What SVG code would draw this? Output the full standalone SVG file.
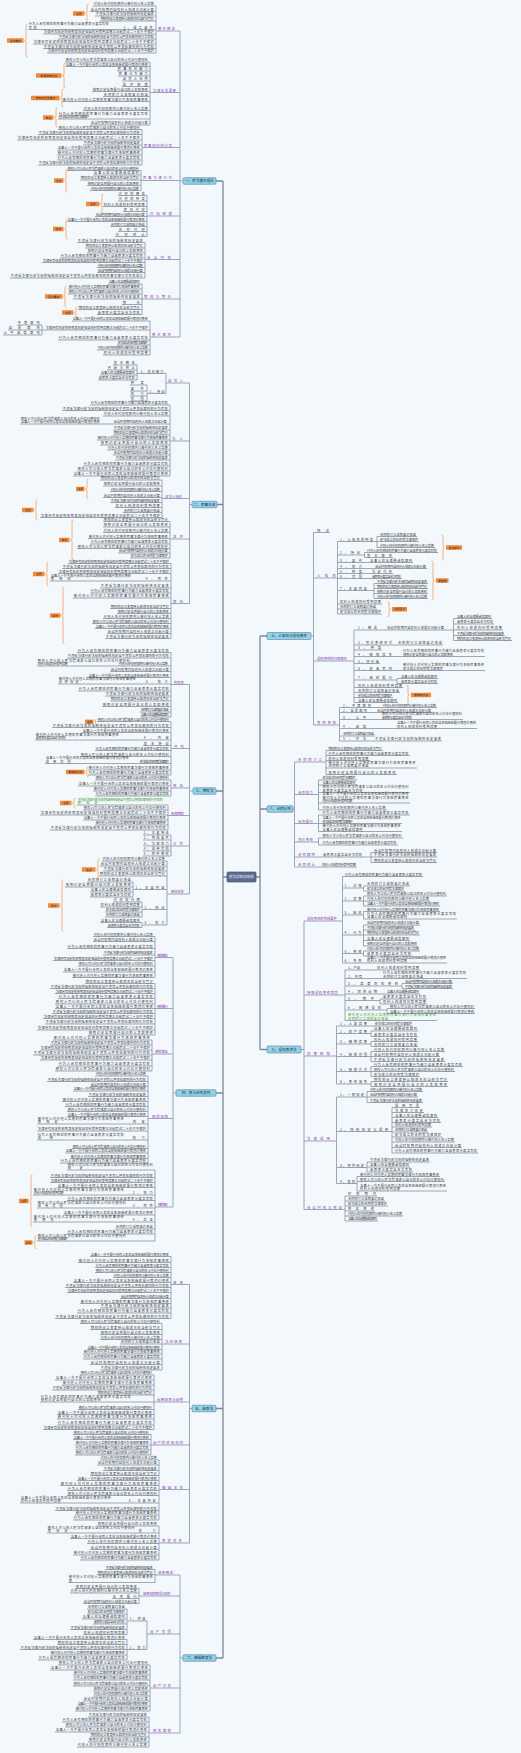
<svg xmlns="http://www.w3.org/2000/svg" width="521" height="1753" viewBox="0 0 521 1753">
<style>
text{font-family:"Noto Sans CJK SC","Noto Sans",sans-serif}
.t text{font-size:3.2px;fill:#3a3a3a}
.t .p{font-size:3.4px;fill:#8e3cba}
.t .g{fill:#36a02a}
.c{fill:none;stroke:#939db0;stroke-width:0.9}
.m{fill:none;stroke:#7d8699;stroke-width:1.3}
.br{fill:none;stroke:#f4a065;stroke-width:0.8}
.ob{fill:#f08a3c}
.t .ot{font-size:2.8px;fill:#222;text-anchor:middle}
.bx{fill:#8fd3ea;stroke:#6e8ca6;stroke-width:0.7}
.t .bt{font-size:3.6px;fill:#1c2a3a;text-anchor:middle}
.cx{fill:#5b6d90;stroke:#44536e;stroke-width:0.7}
.t .ct{font-size:3.8px;fill:#eef2f8;text-anchor:middle}
</style>
<rect width="521" height="1753" fill="#f3f8fc"/>
<g id="connectors">
<path class="m" d="M223,181V1658 M227,877H223 M216,181H223 M217,504.5H223 M216,791H223 M216,1093H223 M216,1408.5H223 M216,1658H223 M256,877H260 M260,636V1049.5 M260,636H267 M260,809H267 M260,1049.5H267"/>
<path class="c" d="M180,31V337 M183,181H180 M156,31H180 M150,92.5H180 M142,147.5H180 M141,180.5H180 M147,216H180 M145,259.5H180 M142,299H180 M150,337H180
M156,6V53 M93,6H156 M90,11.5H156 M95,16H156 M100,21H156 M28,29.5H156 M43,34H156 M58,39H156 M33,44H156 M43,48.5H156 M47,53H156
M150,62V125 M65,62H150 M65,66.5H150 M117,71H150 M118,76H150 M122,81H150 M122,86.5H150 M92,91.5H150 M103,96.5H150 M62,101.5H150 M83,110.5H150 M58,119H150 M90,125H150
M142,129.5V165 M58,129.5H142 M38,134.5H142 M17,140H142 M83,145H142 M57,150H142 M57,155H142 M57,160H142 M38,165H142
M141,170.5V190.5 M67,170.5H141 M93,175H141 M80,180H141 M87,185.5H141 M90,190.5H141
M147,195.5V236.5 M118,195.5H147 M118,201H147 M103,206.5H147 M123,211.5H147 M95,216.5H147 M67,221.5H147 M110,226.5H147 M118,231.5H147 M115,236.5H147
M145,242.5V278 M77,242.5H145 M85,248H145 M87,253H145 M60,258H145 M42,262.5H145 M97,267.5H145 M97,272.5H145 M10,278H145
M142,284V314.5 M108,284H142 M68,289H142 M68,294H142 M73,299H142 M122,304.5H142 M78,309.5H142 M97,314.5H142
M150,321V355 M72,321H150 M8,330H150 M42,325V335 M17,325H42 M3,335H42 M58,340H150 M117,345H150 M97,350H150 M103,355H150"/>
<path class="c" d="M189.5,383V603.5 M192,504.5H189.5 M166,383H189.5 M170,441H189.5 M162,498.5H189.5 M170,539H189.5 M171,603.5H189.5
M166,373.5V393.5 M137,373.5H166 M137,365V380 M113,365H137 M107,370H137 M100,375H137 M98,380H137 M147,393.5H166 M147,385V401 M130,385H147 M130,391H147 M130,396H147 M130,401H147
M170,405V476 M90,405H170 M62,410.5H170 M103,416H170 M20,424H170 M113,430H170 M113,435H170 M97,440H170 M100,445H170 M107,450H170 M113,455H170 M115,460H170 M83,466H170 M77,471H170 M73,476H170
M162,480V517.5 M100,480H162 M103,486H162 M110,491.5H162 M103,497.5H162 M110,502.5H162 M115,507.5H162 M123,512.5H162 M40,517.5H162
M170,521.5V558 M103,521.5H170 M103,527H170 M103,532.5H170 M88,538.5H170 M90,544H170 M77,548.5H170 M118,553H170 M130,558H170
M171,563.5V638.5 M68,563.5H171 M62,568.5H171 M58,573.5H171 M50,581H171 M100,588H171 M90,593H171 M73,598H171 M110,608.5H171 M117,613.5H171 M103,618.5H171 M92,623.5H171 M95,628.5H171 M107,633.5H171 M105,638.5H171"/>
<path class="c" d="M189.5,684.5V894 M193,791H189.5 M171,684.5H189.5 M171,748.5H189.5 M171,788H189.5 M168,815.5H189.5 M171,846H189.5 M167,894H189.5
M171,652.5V717 M77,652.5H171 M67,658H171 M37,666H171 M110,671.5H171 M88,677.5H171 M58,684H171 M78,691H171 M105,696H171 M110,701H171 M102,706.5H171 M140,712H171 M140,717H171
M171,721.5V775 M97,721.5H171 M52,727.5H171 M82,732.5H171 M35,740H171 M143,745.5H171 M95,750.5H171 M80,756.5H171 M45,763.5H171 M88,770H171 M88,775H171
M171,780V796 M95,780H171 M78,786H171 M93,791H171 M95,796H171
M168,805V830 M77,805H168 M83,810H168 M40,815H168 M83,820H168 M95,825H168 M50,830H168
M171,835V856 M143,835H171 M143,840H171 M143,846H171 M143,851H171 M143,856H171
M167,861V925 M102,861H167 M100,866H167 M103,871H167 M99,876H167 M133,889.5H167 M133,882V897 M87,882H133 M65,887H133 M90,892H133 M90,897H133 M142,909.5H167 M142,902V917 M113,902H142 M100,907H142 M105,912H142 M105,917H142 M142,925H167 M142,922.5V927.5 M100,922.5H142 M107,927.5H142"/>
<path class="c" d="M173,957.5V1207 M176,1093H173 M155,957.5H173 M155,1008.5H173 M152,1054H173 M148,1118.5H173 M155,1207H173
M155,936.5V977.5 M93,936.5H155 M93,941.5H155 M67,948.5H155 M103,955H155 M53,960.5H155 M78,966H155 M63,972H155 M72,977.5H155
M155,983.5V1035 M85,983.5H155 M50,988.5H155 M55,993.5H155 M58,998.5H155 M55,1004H155 M55,1008.5H155 M52,1013.5H155 M43,1018.5H155 M45,1024H155 M37,1030H155 M88,1035H155
M152,1040V1071 M53,1040H152 M50,1045H152 M40,1050H152 M33,1055H152 M40,1060H152 M58,1066H152 M55,1071H152
M148,1076V1163 M95,1076H148 M47,1081.5H148 M90,1086.5H148 M73,1091H148 M88,1096.5H148 M62,1101.5H148 M65,1106.5H148 M67,1111.5H148 M67,1116.5H148 M37,1124H148 M37,1131H148 M37,1140H148 M72,1148.5H148 M65,1153H148 M70,1158.5H148 M60,1163H148
M155,1170V1241 M67,1170H155 M50,1177.5H155 M50,1182.5H155 M57,1187.5H155 M33,1195H155 M67,1200.5H155 M37,1208H155 M63,1215H155 M33,1222H155 M115,1229H155 M67,1234H155 M37,1241H155"/>
<path class="c" d="M189.5,1284.5V1543 M192,1408.5H189.5 M171,1284.5H189.5 M162,1344H189.5 M154,1402H189.5 M151,1445H189.5 M159,1489.5H189.5 M159,1543H189.5
M171,1256.5V1318.5 M90,1256.5H171 M78,1262.5H171 M95,1267.5H171 M95,1272.5H171 M113,1277.5H171 M73,1282.5H171 M65,1287.5H171 M67,1292.5H171 M120,1298.5H171 M80,1303.5H171 M100,1308H171 M77,1313H171 M55,1318.5H171
M162,1323.5V1370 M80,1323.5H162 M90,1329.5H162 M100,1334.5H162 M100,1339.5H162 M120,1344H162 M87,1349.5H162 M83,1354H162 M83,1359H162 M90,1364.5H162 M100,1370H162
M154,1375V1429.5 M80,1375H154 M55,1380H154 M62,1385H154 M52,1390H154 M97,1395H154 M40,1402H154 M78,1409.5H154 M57,1414.5H154 M57,1419H154 M57,1425H154 M43,1429.5H154
M151,1434.5V1455 M73,1434.5H151 M73,1439.5H151 M75,1445H151 M75,1450H151 M75,1455H151
M159,1460V1520 M100,1460H159 M97,1465H159 M103,1470.5H159 M90,1475.5H159 M77,1480.5H159 M60,1485.5H159 M67,1490.5H159 M67,1495.5H159 M20,1503H159 M55,1510.5H159 M75,1515H159 M73,1520H159
M159,1526V1560 M97,1526H159 M47,1533H159 M70,1538.5H159 M87,1543.5H159 M90,1549.5H159 M73,1555H159 M80,1560H159"/>
<path class="c" d="M180,1575V1733 M183,1658H180 M155,1575H180 M139,1596H180 M147,1634H180 M150,1688H180 M149,1733H180
M155,1569.5V1582.5 M105,1569.5H155 M97,1574.5H155 M68,1582.5H155
M139,1588.5V1603.5 M75,1588.5H139 M70,1593H139 M112,1598.5H139 M83,1603.5H139
M147,1621V1649.5 M127,1621H147 M127,1609V1634.5 M87,1609H127 M87,1614H127 M82,1619H127 M93,1624H127 M70,1629.5H127 M83,1634.5H127 M127,1649.5H147 M127,1639.5V1660 M33,1639.5H127 M57,1644.5H127 M20,1649.5H127 M50,1655H127 M38,1660H127
M150,1665V1711 M58,1665H150 M50,1670H150 M73,1675H150 M73,1680H150 M73,1686H150 M93,1691H150 M93,1696H150 M83,1701H150 M77,1706H150 M75,1711H150
M149,1717V1747 M88,1717H149 M62,1722H149 M65,1727H149 M55,1732H149 M90,1737H149 M88,1742H149 M77,1747H149"/>
<path class="c" d="M311,636H313.5 M313.5,532.5V725 M313.5,532.5H330 M313.5,578H337.5 M313.5,661H354 M313.5,725H339.5
M337.5,541.5V614 M337.5,541.5H377 M377,536.5V547.5 M377,536.5H417 M377,541.5H419 M377,547.5H435 M337.5,555H364.5 M364.5,552.5V557.5 M364.5,552.5H438 M364.5,557.5H393 M337.5,562.5H413 M337.5,568.5H427 M337.5,573.5H393 M337.5,578.5H402 M337.5,590.5H374 M374,583.5V598.5 M374,583.5H428 M374,588.5H428 M374,593.5H428 M374,598.5H428 M337.5,604H382 M337.5,609H377 M337.5,614H382
M354,630V702.5 M354,630H503 M453.5,618.5V640.5 M453.5,618.5H492 M453.5,624H494 M453.5,635.5H505 M453.5,640.5H512 M354,645H443 M354,650H382 M354,656.5H485 M354,663.5H380 M354,670.5H485 M354,680H397 M397,678.5V683.5 M397,678.5H438 M397,683.5H438 M354,687.5H403 M354,692.5H400 M354,697.5H393 M354,702.5H398
M339.5,707.5V741 M339.5,707.5H437 M339.5,712.5H432 M339.5,719.5H463 M339.5,728.5H477 M339.5,736H375 M339.5,741H442"/>
<path class="c" d="M293,809H294.5 M294.5,762V867 M294.5,762H326 M294.5,794.5H318.5 M294.5,823.5H318.5 M294.5,842H318.5 M294.5,857H371 M294.5,867H357
M326,750.5V774.5 M326,750.5H383 M326,755.5H410 M326,760.5H370 M326,768H417 M326,774.5H397
M318.5,780V810 M318.5,780H357 M318.5,785H357 M318.5,792.5H410 M318.5,803H410 M318.5,810H387
M318.5,815V831.5 M318.5,815H410 M318.5,823.5H402 M318.5,831.5H402
M318.5,838V845 M318.5,838H403 M318.5,845H398
M371,852.5V862.5 M371,852.5H437 M371,857H437 M371,862.5H437"/>
<path class="c" d="M301,1049.5H304 M304,921V1209.5 M304,921H342.5 M304,995H345 M304,1056H336.5 M304,1141H336.5 M304,1209.5H345
M342.5,876.5V963 M342.5,876.5H423 M342.5,888H363.5 M363.5,886V891 M363.5,886H410 M363.5,891H405 M342.5,901H363.5 M363.5,896V906 M363.5,896H447 M363.5,901H430 M363.5,906H440 M342.5,915H363.5 M363.5,911.5V919 M363.5,911.5H440 M363.5,919H457 M342.5,935H363.5 M363.5,925V946 M363.5,925H420 M363.5,930H415 M363.5,935H420 M363.5,940.5H410 M363.5,946H418 M342.5,953.5H363.5 M363.5,951V956 M363.5,951H420 M363.5,956H412 M342.5,963H447
M345,970V1020.5 M345,970H420 M345,978.5H467 M345,986H402 M402,983.5V988.5 M402,983.5H453 M402,988.5H453 M345,994H420 M345,1000.5H380 M380,999V1004 M380,999H427 M380,1004H427 M345,1010H387 M387,1008.5V1013.5 M387,1008.5H475 M387,1013.5H475 M345,1020.5H437
M336.5,1026V1084 M336.5,1026H413 M336.5,1033.5H371 M371,1031V1036.5 M371,1031H418 M371,1036.5H418 M336.5,1044H371 M371,1041.5V1046.5 M371,1041.5H418 M371,1046.5H418 M336.5,1056.5H371 M371,1051.5V1061.5 M371,1051.5H445 M371,1056.5H440 M371,1061.5H445 M336.5,1071.5H371 M371,1066.5V1076.5 M371,1066.5H463 M371,1071.5H455 M371,1076.5H420 M336.5,1084H371 M371,1081.5V1086.5 M371,1081.5H448 M371,1086.5H448
M336.5,1097V1183.5 M336.5,1097H367 M367,1091.5V1102.5 M367,1091.5H423 M367,1097H418 M367,1102.5H423 M336.5,1131.5H392 M392,1107.5V1153 M392,1107.5H420 M392,1112.5H424 M392,1117.5H438 M392,1122.5H441 M392,1127H432 M392,1132H428 M392,1137H442 M392,1142H455 M392,1147.5H462 M392,1153H478 M336.5,1167.5H367 M367,1162V1172 M367,1162H430 M367,1167H410 M367,1172H413 M336.5,1183.5H357 M357,1176.5V1191 M357,1176.5H440 M357,1181.5H445 M357,1191H447
M345,1196V1221 M345,1196H377 M345,1201H385 M345,1206H388 M345,1211H375 M345,1216H403 M345,1221H378"/>
</g>
<g id="nodes" class="t">
<g id="center"><rect class="cx" x="227" y="872" width="29" height="10" rx="1"/><text class="ct" x="241.5" y="878.3" textLength="25">民法学知识体系</text></g>
<g id="b1">
<rect class="bx" x="183" y="177.75" width="33" height="6.5" rx="1"/><text class="bt" x="199.5" y="182.3">一、民法基本理论</text>
<path class="br" d="M88.5,4Q87,4 87,5.5V12Q87,13.5 85.5,13.5Q87,13.5 87,15V21.5Q87,23 88.5,23 M27.5,24Q26,24 26,25.5V39Q26,40.5 24.5,40.5Q26,40.5 26,42V55.5Q26,57 27.5,57 M65.5,63Q64,63 64,64.5V74Q64,75.5 62.5,75.5Q64,75.5 64,77V86.5Q64,88 65.5,88 M63.5,89Q62,89 62,90.5V96.5Q62,98 60.5,98Q62,98 62,99.5V105.5Q62,107 63.5,107 M57.5,108Q56,108 56,109.5V116Q56,117.5 54.5,117.5Q56,117.5 56,119V125.5Q56,127 57.5,127 M67.5,169Q66,169 66,170.5V179Q66,180.5 64.5,180.5Q66,180.5 66,182V190.5Q66,192 67.5,192 M103.5,194Q102,194 102,195.5V202.5Q102,204 100.5,204Q102,204 102,205.5V212.5Q102,214 103.5,214 M67.5,219Q66,219 66,220.5V227.5Q66,229 64.5,229Q66,229 66,230.5V237.5Q66,239 67.5,239 M66.5,286Q65,286 65,287.5V295Q65,296.5 63.5,296.5Q65,296.5 65,298V305.5Q65,307 66.5,307 M77.5,307Q76,307 76,308.5V311Q76,312.5 74.5,312.5Q76,312.5 76,314V316.5Q76,318 77.5,318"/>
<rect class="ob" x="73" y="11.25" width="11.5" height="4.5"/><text class="ot" x="78.75" y="14.5">注意</text>
<rect class="ob" x="7" y="38.25" width="16.5" height="4.5"/><text class="ot" x="15.25" y="41.5">重点难点</text>
<rect class="ob" x="36" y="73.25" width="25.5" height="4.5"/><text class="ot" x="48.75" y="76.5">易混淆知识点</text>
<rect class="ob" x="31" y="95.75" width="28.5" height="4.5"/><text class="ot" x="45.25" y="99">常考点与重难点</text>
<rect class="ob" x="43" y="115.25" width="10.5" height="4.5"/><text class="ot" x="48.25" y="118.5">考点</text>
<rect class="ob" x="54" y="178.25" width="9.5" height="4.5"/><text class="ot" x="58.75" y="181.5">重点</text>
<rect class="ob" x="86" y="201.75" width="13.5" height="4.5"/><text class="ot" x="92.75" y="205">注意</text>
<rect class="ob" x="53" y="226.75" width="10.5" height="4.5"/><text class="ot" x="58.25" y="230">提示</text>
<rect class="ob" x="45" y="294.25" width="17.5" height="4.5"/><text class="ot" x="53.75" y="297.5">区分要点</text>
<rect class="ob" x="62" y="310.25" width="11.5" height="4.5"/><text class="ot" x="67.75" y="313.5">注意</text>
<g id="b1a"><text class="p" x="158" y="30.1" textLength="17">基本概念</text>
<text x="93.8" y="5.1" textLength="60">代理人在代理权限内以被代理人名义实施</text>
<text x="90.8" y="10.6" textLength="63">诉讼时效期间自权利人知道之日起计算</text>
<text x="95.8" y="15.1" textLength="58">不违反法律行政法规的强制性规定要求</text>
<text x="100.8" y="20.1" textLength="53">物权的设立变更转让和消灭应当依法登记</text>
<text x="28.8" y="25.1" textLength="80">行为人具有相应的民事行为能力且意思表示真实有效</text>
<text x="28.8" y="28.6" textLength="8">有效</text><text x="123.8" y="28.6" textLength="29">1、成立要件</text>
<text x="43.8" y="33.1" textLength="110">法律另有规定的依照其规定但自权利受到损害之日起超过二十年不予保护</text>
<text x="58.8" y="38.1" textLength="95">不违反法律行政法规的强制性规定且不违背公序良俗原则的行为有效</text>
<text x="33.8" y="43.1" textLength="120">法律另有规定的依照其规定但自权利受到损害之日起超过二十年不予保护</text>
<text x="43.8" y="47.6" textLength="110">不违反法律行政法规的强制性规定且不违背公序良俗原则的行为有效</text>
<text x="47.8" y="52.1" textLength="106">法律另有规定的依照其规定但自权利受到损害之日起超过二十年不予保护</text></g>
<g id="b1b"><text class="p" x="153" y="91.6" textLength="23">法律关系要素</text>
<text x="65.8" y="61.1" textLength="82">债权人可以向人民法院请求以自己的名义代位行使权利</text>
<text x="65.8" y="65.6" textLength="82">当事人一方不履行合同义务应当承担继续履行等违约责任</text>
<text x="117.8" y="70.1" textLength="30">民事权利能力</text>
<text x="118.8" y="75.1" textLength="29">民事行为能力</text>
<text x="122.8" y="80.1" textLength="25">自然人住所</text>
<text x="122.8" y="85.6" textLength="25">监护制度</text>
<text x="92.8" y="90.6" textLength="55">按照约定全面履行自己的义务和责任</text>
<text x="103.8" y="95.6" textLength="44">合同的订立采取要约承诺</text>
<text x="62.8" y="100.6" textLength="85">被代理人对代理人实施的民事法律行为承担民事责任</text>
<text x="83.8" y="109.6" textLength="64">代理人在代理权限内以被代理人名义实施</text>
<text x="58.8" y="114.7" textLength="89">行为人具有相应的民事行为能力且意思表示真实有效</text>
<text x="58.8" y="118.1" textLength="30">依法成立的合同受法律保护</text>
<text x="90.8" y="124.1" textLength="57">诉讼时效期间自权利人知道之日起计算</text></g>
<g id="b1c"><text class="p" x="144" y="146.6" textLength="28">民事权利的分类</text>
<text x="58.8" y="128.6" textLength="81">债权人可以向人民法院请求以自己的名义代位行使权利</text>
<text x="38.8" y="133.6" textLength="101">不违反法律行政法规的强制性规定且不违背公序良俗原则的行为有效</text>
<text x="17.8" y="139.1" textLength="122">法律另有规定的依照其规定但自权利受到损害之日起超过二十年不予保护</text>
<text x="83.8" y="144.1" textLength="56">不违反法律行政法规的强制性规定要求</text>
<text x="57.8" y="149.1" textLength="82">当事人一方不履行合同义务应当承担继续履行等违约责任</text>
<text x="57.8" y="154.1" textLength="82">被代理人对代理人实施的民事法律行为承担民事责任</text>
<text x="57.8" y="159.1" textLength="82">行为人具有相应的民事行为能力且意思表示真实有效</text>
<text x="38.8" y="164.1" textLength="101">不违反法律行政法规的强制性规定且不违背公序良俗原则的行为有效</text></g>
<g id="b1d"><text class="p" x="143" y="179.4" textLength="29">民事法律行为</text>
<text x="67.8" y="169.6" textLength="71">债权人可以向人民法院请求以自己的名义代位行使权利</text>
<text x="93.8" y="174.1" textLength="45">当事人应当遵循诚信原则</text>
<text x="80.8" y="179.1" textLength="58">物权的设立变更转让和消灭应当依法登记</text>
<text x="87.8" y="184.6" textLength="51">按照约定全面履行自己的义务和责任</text>
<text x="90.8" y="189.6" textLength="48">代理人在代理权限内以被代理人名义实施</text></g>
<g id="b1e"><text class="p" x="150" y="215.1" textLength="22">代理制度</text>
<text x="118.8" y="194.6" textLength="26">代理的概念</text>
<text x="118.8" y="200.1" textLength="26">代理的种类</text>
<text x="103.8" y="205.6" textLength="41">权利人知道权利受到损害</text>
<text x="123.8" y="210.6" textLength="21">表见代理</text>
<text x="95.8" y="215.6" textLength="49">诉讼时效期间自权利人知道之日起计算</text>
<text x="67.8" y="220.6" textLength="77">当事人一方不履行合同义务应当承担继续履行等违约责任</text>
<text x="110.8" y="225.6" textLength="34">合同的订立采取要约承诺</text>
<text x="118.8" y="230.6" textLength="26">无权代理</text>
<text x="115.8" y="235.6" textLength="29">代理终止</text></g>
<g id="b1f"><text class="p" x="147" y="258.6" textLength="24">诉讼时效</text>
<text x="77.8" y="241.6" textLength="65">不违反法律行政法规的强制性规定要求</text>
<text x="85.8" y="247.1" textLength="57">物权的设立变更转让和消灭应当依法登记</text>
<text x="87.8" y="252.1" textLength="55">按照约定全面履行自己的义务和责任</text>
<text x="60.8" y="257.1" textLength="82">行为人具有相应的民事行为能力且意思表示真实有效</text>
<text x="42.8" y="261.6" textLength="100">法律另有规定的依照其规定但自权利受到损害之日起超过二十年不予保护</text>
<text x="97.8" y="266.6" textLength="45">代理人在代理权限内以被代理人名义实施</text>
<text x="97.8" y="271.6" textLength="45">诉讼时效期间自权利人知道之日起计算</text>
<text x="10.8" y="277.1" textLength="132">不违反法律行政法规的强制性规定且不违背公序良俗原则的民事法律行为有效成立</text></g>
<g id="b1g"><text class="p" x="144" y="298.1" textLength="27">期间与期日</text>
<text x="108.8" y="283.1" textLength="31">当事人应当遵循诚信原则</text>
<text x="68.8" y="288.1" textLength="71">被代理人对代理人实施的民事法律行为承担民事责任</text>
<text x="68.8" y="293.1" textLength="71">债权人可以向人民法院请求以自己的名义代位行使权利</text>
<text x="73.8" y="298.1" textLength="66">不违反法律行政法规的强制性规定要求</text>
<text x="122.8" y="303.6" textLength="17">期日</text>
<text x="78.8" y="308.6" textLength="61">物权的设立变更转让和消灭应当依法登记</text>
<text x="97.8" y="313.6" textLength="42">意思表示真实且合法有效</text></g>
<g id="b1h"><text class="p" x="152" y="336.1" textLength="19">基本原则</text>
<text x="72.8" y="320.1" textLength="75">当事人一方不履行合同义务应当承担继续履行等违约责任</text>
<text x="45.8" y="329.1" textLength="102">法律另有规定的依照其规定但自权利受到损害之日起超过二十年不予保护</text>
<text x="17.8" y="324.1" textLength="22">平等原则</text>
<text x="8.8" y="329.1" textLength="31">自愿原则</text>
<text x="3.8" y="334.1" textLength="36">公平诚信原则</text>
<text x="58.8" y="339.1" textLength="89">行为人具有相应的民事行为能力且意思表示真实有效</text>
<text x="117.8" y="344.1" textLength="30">依法成立的合同受法律保护</text>
<text x="97.8" y="349.1" textLength="50">代理人在代理权限内以被代理人名义实施</text>
<text x="103.8" y="354.1" textLength="44">权利人知道权利受到损害</text></g>
</g>
<g id="b2">
<rect class="bx" x="192" y="501.25" width="25" height="6.5" rx="1"/><text class="bt" x="204.5" y="505.8">二、民事主体</text>
<path class="br" d="M88.5,479Q87,479 87,480.5V487.5Q87,489 85.5,489Q87,489 87,490.5V497.5Q87,499 88.5,499 M37.5,500Q36,500 36,501.5V508.5Q36,510 34.5,510Q36,510 36,511.5V518.5Q36,520 37.5,520 M73.5,520Q72,520 72,521.5V538.5Q72,540 70.5,540Q72,540 72,541.5V558.5Q72,560 73.5,560 M48.5,562Q47,562 47,563.5V572.5Q47,574 45.5,574Q47,574 47,575.5V584.5Q47,586 48.5,586 M64.5,587Q63,587 63,588.5V614Q63,615.5 61.5,615.5Q63,615.5 63,617V642.5Q63,644 64.5,644"/>
<rect class="ob" x="76" y="486.75" width="8.5" height="4.5"/><text class="ot" x="80.25" y="490">注意</text>
<rect class="ob" x="22" y="507.75" width="11.5" height="4.5"/><text class="ot" x="27.75" y="511">重点</text>
<rect class="ob" x="59" y="537.75" width="10.5" height="4.5"/><text class="ot" x="64.25" y="541">考点</text>
<rect class="ob" x="33" y="571.75" width="11.5" height="4.5"/><text class="ot" x="38.75" y="575">注意</text>
<rect class="ob" x="50" y="613.25" width="10.5" height="4.5"/><text class="ot" x="55.25" y="616.5">提示</text>
<g id="b2a"><text class="p" x="168" y="382.1" textLength="15">自然人</text>
<text x="140.5" y="372.6" textLength="23">1、权利能力</text>
<text x="113.8" y="364.1" textLength="21">基本概念</text>
<text x="107.8" y="369.1" textLength="27">开始与终止</text>
<text x="100.8" y="374.1" textLength="34">当事人应当遵循诚信原则</text>
<text x="98.8" y="379.1" textLength="36">意思表示真实且合法有效</text>
<text x="149.5" y="392.6" textLength="15">2、特征</text>
<text x="130.8" y="384.1" textLength="13">种类</text>
<text x="130.8" y="390.1" textLength="13">要件</text>
<text x="130.8" y="395.1" textLength="13">效力</text>
<text x="130.8" y="400.1" textLength="13">范围</text></g>
<g id="b2b"><text class="p" x="172" y="440.1" textLength="11">法人</text>
<text x="90.8" y="404.1" textLength="77">行为人具有相应的民事行为能力且意思表示真实有效</text>
<text x="62.8" y="409.6" textLength="105">不违反法律行政法规的强制性规定且不违背公序良俗原则的行为有效</text>
<text x="103.8" y="415.1" textLength="64">代理人在代理权限内以被代理人名义实施</text>
<text x="20.8" y="419.7" textLength="79">债权人可以向人民法院请求以自己的名义代位行使权利</text>
<text x="20.8" y="423.1" textLength="79">当事人一方不履行合同义务应当承担继续履行等违约责任</text>
<text x="113.8" y="423.1" textLength="53">诉讼时效期间自权利人知道之日起计算</text>
<text x="113.8" y="429.1" textLength="54">不违反法律行政法规的强制性规定要求</text>
<text x="113.8" y="434.1" textLength="54">物权的设立变更转让和消灭应当依法登记</text>
<text x="97.8" y="439.1" textLength="70">被代理人对代理人实施的民事法律行为承担民事责任</text>
<text x="100.8" y="444.1" textLength="67">按照约定全面履行自己的义务和责任</text>
<text x="107.8" y="449.1" textLength="60">代理人在代理权限内以被代理人名义实施</text>
<text x="113.8" y="454.1" textLength="54">诉讼时效期间自权利人知道之日起计算</text>
<text x="115.8" y="459.1" textLength="52">不违反法律行政法规的强制性规定要求</text>
<text x="83.8" y="465.1" textLength="84">行为人具有相应的民事行为能力且意思表示真实有效</text>
<text x="77.8" y="470.1" textLength="90">债权人可以向人民法院请求以自己的名义代位行使权利</text>
<text x="73.8" y="475.1" textLength="94">当事人一方不履行合同义务应当承担继续履行等违约责任</text></g>
<g id="b2c"><text class="p" x="165" y="497.6" textLength="17">非法人组织</text>
<text x="100.8" y="479.1" textLength="59">物权的设立变更转让和消灭应当依法登记</text>
<text x="103.8" y="485.1" textLength="56">按照约定全面履行自己的义务和责任</text>
<text x="110.8" y="490.6" textLength="49">代理人在代理权限内以被代理人名义实施</text>
<text x="103.8" y="496.6" textLength="56">诉讼时效期间自权利人知道之日起计算</text>
<text x="110.8" y="501.6" textLength="49">不违反法律行政法规的强制性规定要求</text>
<text x="115.8" y="506.6" textLength="44">权利人知道权利受到损害</text>
<text x="123.8" y="511.6" textLength="36">合同的订立采取要约承诺</text>
<text x="40.8" y="516.6" textLength="119">法律另有规定的依照其规定但自权利受到损害之日起超过二十年不予保护</text></g>
<g id="b2d"><text class="p" x="173" y="538.1" textLength="10">监护</text>
<text x="103.8" y="520.6" textLength="64">物权的设立变更转让和消灭应当依法登记</text>
<text x="103.8" y="526.1" textLength="64">按照约定全面履行自己的义务和责任</text>
<text x="103.8" y="531.6" textLength="64">代理人在代理权限内以被代理人名义实施</text>
<text x="88.8" y="537.6" textLength="79">被代理人对代理人实施的民事法律行为承担民事责任</text>
<text x="90.8" y="543.1" textLength="77">行为人具有相应的民事行为能力且意思表示真实有效</text>
<text x="77.8" y="547.6" textLength="90">债权人可以向人民法院请求以自己的名义代位行使权利</text>
<text x="118.8" y="552.1" textLength="49">诉讼时效期间自权利人知道之日起计算</text>
<text x="130.8" y="557.1" textLength="37">依法成立的合同受法律保护</text></g>
<g id="b2e"><text class="p" x="173" y="602.6" textLength="10">宣告</text>
<text x="68.8" y="562.6" textLength="100">法律另有规定的依照其规定但自权利受到损害之日起超过二十年不予保护</text>
<text x="62.8" y="567.6" textLength="106">不违反法律行政法规的强制性规定且不违背公序良俗原则的行为有效</text>
<text x="58.8" y="572.6" textLength="110">法律另有规定的依照其规定但自权利受到损害之日起超过二十年不予保护</text>
<text x="50.8" y="576.7" textLength="80">当事人一方不履行合同义务应当承担继续履行等违约责任</text>
<text x="50.8" y="580.1" textLength="20">等情形</text><text x="145.8" y="580.1" textLength="22">4、例外</text>
<text x="100.8" y="587.1" textLength="68">不违反法律行政法规的强制性规定要求</text>
<text x="90.8" y="592.1" textLength="78">行为人具有相应的民事行为能力且意思表示真实有效</text>
<text x="73.8" y="597.1" textLength="95">被代理人对代理人实施的民事法律行为承担民事责任</text>
<text x="110.8" y="607.6" textLength="58">物权的设立变更转让和消灭应当依法登记</text>
<text x="117.8" y="612.6" textLength="51">按照约定全面履行自己的义务和责任</text>
<text x="103.8" y="617.6" textLength="65">代理人在代理权限内以被代理人名义实施</text>
<text x="92.8" y="622.6" textLength="76">债权人可以向人民法院请求以自己的名义代位行使权利</text>
<text x="95.8" y="627.6" textLength="73">当事人一方不履行合同义务应当承担继续履行等违约责任</text>
<text x="107.8" y="632.6" textLength="61">诉讼时效期间自权利人知道之日起计算</text>
<text x="105.8" y="637.6" textLength="63">不违反法律行政法规的强制性规定要求</text></g>
</g>
<g id="b3">
<rect class="bx" x="193" y="787.75" width="23" height="6.5" rx="1"/><text class="bt" x="204.5" y="792.3">三、物权法</text>
<path class="br" d="M96.5,719Q95.5,719 95.5,720V721Q95.5,721.75 94.5,721.75Q95.5,721.75 95.5,722.5V723.5Q95.5,724.5 96.5,724.5 M88.5,767Q87,767 87,768.5V770.5Q87,772 85.5,772Q87,772 87,773.5V775.5Q87,777 88.5,777 M75.5,798Q74,798 74,799.5V801.5Q74,803 72.5,803Q74,803 74,804.5V806.5Q74,808 75.5,808 M99.5,859Q98,859 98,860.5V868Q98,869.5 96.5,869.5Q98,869.5 98,871V878.5Q98,880 99.5,880 M63.5,880Q62,880 62,881.5V904Q62,905.5 60.5,905.5Q62,905.5 62,907V929.5Q62,931 63.5,931"/>
<rect class="ob" x="85" y="719.6" width="8.5" height="4.3"/><text class="ot" x="89.25" y="722.8">注意</text>
<rect class="ob" x="66" y="769.75" width="18.5" height="4.5"/><text class="ot" x="75.25" y="773">易错知识点</text>
<rect class="ob" x="60" y="800.75" width="11.5" height="4.5"/><text class="ot" x="65.75" y="804">注意</text>
<rect class="ob" x="82" y="867.25" width="13.5" height="4.5"/><text class="ot" x="88.75" y="870.5">重点</text>
<rect class="ob" x="48" y="903.25" width="11.5" height="4.5"/><text class="ot" x="53.75" y="906.5">提示</text>
<g id="b3a"><text class="p" x="174" y="683.6" textLength="10">所有权</text>
<text x="77.8" y="651.6" textLength="91">行为人具有相应的民事行为能力且意思表示真实有效</text>
<text x="67.8" y="657.1" textLength="101">不违反法律行政法规的强制性规定且不违背公序良俗原则的行为有效</text>
<text x="37.8" y="661.7" textLength="92">债权人可以向人民法院请求以自己的名义代位行使权利</text>
<text x="37.8" y="665.1" textLength="30">权利人知道权利受到损害</text><text x="118.8" y="665.1" textLength="49">代理人在代理权限内以被代理人名义实施</text>
<text x="110.8" y="670.6" textLength="58">诉讼时效期间自权利人知道之日起计算</text>
<text x="88.8" y="676.6" textLength="80">当事人一方不履行合同义务应当承担继续履行等违约责任</text>
<text x="58.8" y="679.7" textLength="77">被代理人对代理人实施的民事法律行为承担民事责任</text>
<text x="58.8" y="683.1" textLength="20">具体规定</text><text x="145.8" y="683.1" textLength="22">3、效力</text>
<text x="78.8" y="690.1" textLength="90">行为人具有相应的民事行为能力且意思表示真实有效</text>
<text x="105.8" y="695.1" textLength="63">不违反法律行政法规的强制性规定要求</text>
<text x="110.8" y="700.1" textLength="58">物权的设立变更转让和消灭应当依法登记</text>
<text x="102.8" y="705.6" textLength="66">按照约定全面履行自己的义务和责任</text>
<text x="140.8" y="711.1" textLength="28">合同的订立采取要约承诺</text>
<text x="140.8" y="716.1" textLength="28">当事人应当遵循诚信原则</text></g>
<g id="b3b"><text class="p" x="174" y="747.6" textLength="10">共有</text>
<text x="97.8" y="720.6" textLength="71">债权人可以向人民法院请求以自己的名义代位行使权利</text>
<text x="52.8" y="726.6" textLength="116">不违反法律行政法规的强制性规定且不违背公序良俗原则的行为有效</text>
<text x="82.8" y="731.6" textLength="86">当事人一方不履行合同义务应当承担继续履行等违约责任</text>
<text x="35.8" y="735.7" textLength="83">被代理人对代理人实施的民事法律行为承担民事责任</text>
<text x="35.8" y="739.1" textLength="30">意思表示真实且合法有效</text><text x="143.8" y="739.1" textLength="25">4、内容</text>
<text x="143.8" y="744.6" textLength="25">基本特征</text>
<text x="95.8" y="749.6" textLength="73">行为人具有相应的民事行为能力且意思表示真实有效</text>
<text x="80.8" y="755.6" textLength="88">债权人可以向人民法院请求以自己的名义代位行使权利</text>
<text x="45.8" y="759.2" textLength="83">当事人一方不履行合同义务应当承担继续履行等违约责任</text>
<text x="45.8" y="762.6" textLength="25">适用范围</text><text x="139.8" y="762.6" textLength="29">依法成立的合同受法律保护</text>
<text x="88.8" y="769.1" textLength="80">被代理人对代理人实施的民事法律行为承担民事责任</text>
<text x="88.8" y="774.1" textLength="80">行为人具有相应的民事行为能力且意思表示真实有效</text></g>
<g id="b3c"><text class="p" x="173" y="787.1" textLength="10">用益</text>
<text x="95.8" y="779.1" textLength="73">债权人可以向人民法院请求以自己的名义代位行使权利</text>
<text x="78.8" y="785.1" textLength="90">当事人一方不履行合同义务应当承担继续履行等违约责任</text>
<text x="93.8" y="790.1" textLength="75">被代理人对代理人实施的民事法律行为承担民事责任</text>
<text x="95.8" y="795.1" textLength="73">行为人具有相应的民事行为能力且意思表示真实有效</text></g>
<g id="b3d"><text class="p" x="171" y="814.6" textLength="13">担保物权</text>
<text class="g" x="77.8" y="800.7" textLength="85">不违反法律行政法规的强制性规定且不违背公序良俗原则的行为有效</text>
<text class="g" x="77.8" y="804.1" textLength="20">等规定</text>
<text x="83.8" y="809.1" textLength="82">债权人可以向人民法院请求以自己的名义代位行使权利</text>
<text x="40.8" y="814.1" textLength="125">法律另有规定的依照其规定但自权利受到损害之日起超过二十年不予保护</text>
<text x="83.8" y="819.1" textLength="82">当事人一方不履行合同义务应当承担继续履行等违约责任</text>
<text x="95.8" y="824.1" textLength="70">被代理人对代理人实施的民事法律行为承担民事责任</text>
<text x="50.8" y="829.1" textLength="115">不违反法律行政法规的强制性规定且不违背公序良俗原则的行为有效</text></g>
<g id="b3e"><text class="p" x="173" y="845.1" textLength="10">占有</text>
<text x="143.8" y="834.1" textLength="25">1、主要特征</text>
<text x="143.8" y="839.1" textLength="25">2、构成要件</text>
<text x="143.8" y="845.1" textLength="25">3、法律效力</text>
<text x="143.8" y="850.1" textLength="25">4、适用范围</text>
<text x="143.8" y="855.1" textLength="25">5、例外情形</text></g>
<g id="b3f"><text class="p" x="171" y="893.1" textLength="13">相邻关系</text>
<text x="102.8" y="860.1" textLength="62">代理人在代理权限内以被代理人名义实施</text>
<text x="100.8" y="865.1" textLength="64">诉讼时效期间自权利人知道之日起计算</text>
<text x="103.8" y="870.1" textLength="61">不违反法律行政法规的强制性规定要求</text>
<text x="99.8" y="875.1" textLength="65">物权的设立变更转让和消灭应当依法登记</text>
<text x="135.5" y="888.6" textLength="29">1、主要内容</text>
<text x="87.8" y="881.1" textLength="43">合同的订立采取要约承诺</text>
<text x="65.8" y="886.1" textLength="65">按照约定全面履行自己的义务和责任</text>
<text x="90.8" y="891.1" textLength="40">当事人应当遵循诚信原则</text>
<text x="90.8" y="896.1" textLength="40">意思表示真实且合法有效</text>
<text x="144.5" y="908.6" textLength="20">2、特征</text>
<text x="113.8" y="901.1" textLength="26">代理权行使</text>
<text x="100.8" y="906.1" textLength="39">权利人知道权利受到损害</text>
<text x="105.8" y="911.1" textLength="34">依法成立的合同受法律保护</text>
<text x="105.8" y="916.1" textLength="34">合同的订立采取要约承诺</text>
<text x="144.5" y="924.1" textLength="20">3、效力</text>
<text x="100.8" y="921.6" textLength="39">当事人应当遵循诚信原则</text>
<text x="107.8" y="926.6" textLength="32">意思表示真实且合法有效</text></g>
</g>
<g id="b4">
<rect class="bx" x="176" y="1089.75" width="40" height="6.5" rx="1"/><text class="bt" x="196" y="1094.3">四、债与合同总则</text>
<path class="br" d="M32.5,1175Q31,1175 31,1176.5V1199.5Q31,1201 29.5,1201Q31,1201 31,1202.5V1225.5Q31,1227 32.5,1227 M36.5,1236Q35,1236 35,1237.5V1241Q35,1242.5 33.5,1242.5Q35,1242.5 35,1244V1247.5Q35,1249 36.5,1249"/>
<rect class="ob" x="19" y="1198.75" width="9.5" height="4.5"/><text class="ot" x="23.75" y="1202">注意</text>
<rect class="ob" x="24.5" y="1240.25" width="8" height="4.5"/><text class="ot" x="28.5" y="1243.5">提示</text>
<g id="b4a"><text class="p" x="157" y="956.6" textLength="11">债的概念</text>
<text x="93.8" y="935.6" textLength="59">代理人在代理权限内以被代理人名义实施</text>
<text x="93.8" y="940.6" textLength="59">诉讼时效期间自权利人知道之日起计算</text>
<text x="67.8" y="947.6" textLength="85">行为人具有相应的民事行为能力且意思表示真实有效</text>
<text x="103.8" y="954.1" textLength="49">不违反法律行政法规的强制性规定要求</text>
<text x="53.8" y="959.6" textLength="99">法律另有规定的依照其规定但自权利受到损害之日起超过二十年不予保护</text>
<text x="78.8" y="965.1" textLength="74">债权人可以向人民法院请求以自己的名义代位行使权利</text>
<text x="63.8" y="971.1" textLength="89">当事人一方不履行合同义务应当承担继续履行等违约责任</text>
<text x="72.8" y="976.6" textLength="80">被代理人对代理人实施的民事法律行为承担民事责任</text></g>
<g id="b4b"><text class="p" x="157" y="1007.6" textLength="11">债的履行</text>
<text x="85.8" y="982.6" textLength="67">物权的设立变更转让和消灭应当依法登记</text>
<text x="50.8" y="987.6" textLength="102">不违反法律行政法规的强制性规定且不违背公序良俗原则的行为有效</text>
<text x="55.8" y="992.6" textLength="97">法律另有规定的依照其规定但自权利受到损害之日起超过二十年不予保护</text>
<text x="58.8" y="997.6" textLength="94">行为人具有相应的民事行为能力且意思表示真实有效</text>
<text x="55.8" y="1003.1" textLength="97">债权人可以向人民法院请求以自己的名义代位行使权利</text>
<text x="55.8" y="1007.6" textLength="97">当事人一方不履行合同义务应当承担继续履行等违约责任</text>
<text x="52.8" y="1012.6" textLength="100">不违反法律行政法规的强制性规定且不违背公序良俗原则的行为有效</text>
<text x="43.8" y="1017.6" textLength="109">法律另有规定的依照其规定但自权利受到损害之日起超过二十年不予保护</text>
<text x="45.8" y="1023.1" textLength="107">不违反法律行政法规的强制性规定且不违背公序良俗原则的行为有效</text>
<text x="37.8" y="1029.1" textLength="115">法律另有规定的依照其规定但自权利受到损害之日起超过二十年不予保护</text>
<text x="88.8" y="1034.1" textLength="64">按照约定全面履行自己的义务和责任</text></g>
<g id="b4c"><text class="p" x="155" y="1053.1" textLength="13">债的保全</text>
<text x="53.8" y="1039.1" textLength="96">被代理人对代理人实施的民事法律行为承担民事责任</text>
<text x="50.8" y="1044.1" textLength="99">不违反法律行政法规的强制性规定且不违背公序良俗原则的行为有效</text>
<text x="40.8" y="1049.1" textLength="109">法律另有规定的依照其规定但自权利受到损害之日起超过二十年不予保护</text>
<text x="33.8" y="1054.1" textLength="116">不违反法律行政法规的强制性规定且不违背公序良俗原则的行为有效</text>
<text x="40.8" y="1059.1" textLength="109">法律另有规定的依照其规定但自权利受到损害之日起超过二十年不予保护</text>
<text x="58.8" y="1065.1" textLength="91">行为人具有相应的民事行为能力且意思表示真实有效</text>
<text x="55.8" y="1070.1" textLength="94">债权人可以向人民法院请求以自己的名义代位行使权利</text></g>
<g id="b4d"><text class="p" x="152" y="1117.6" textLength="16">债的担保</text>
<text x="95.8" y="1075.1" textLength="50">代理人在代理权限内以被代理人名义实施</text>
<text x="47.8" y="1080.6" textLength="98">不违反法律行政法规的强制性规定且不违背公序良俗原则的行为有效</text>
<text x="90.8" y="1085.6" textLength="55">诉讼时效期间自权利人知道之日起计算</text>
<text x="73.8" y="1090.1" textLength="72">当事人一方不履行合同义务应当承担继续履行等违约责任</text>
<text x="88.8" y="1095.6" textLength="57">不违反法律行政法规的强制性规定要求</text>
<text x="62.8" y="1100.6" textLength="83">被代理人对代理人实施的民事法律行为承担民事责任</text>
<text x="65.8" y="1105.6" textLength="80">行为人具有相应的民事行为能力且意思表示真实有效</text>
<text x="67.8" y="1110.6" textLength="78">债权人可以向人民法院请求以自己的名义代位行使权利</text>
<text x="67.8" y="1115.6" textLength="78">当事人一方不履行合同义务应当承担继续履行等违约责任</text>
<text x="37.8" y="1119.7" textLength="86">被代理人对代理人实施的民事法律行为承担民事责任</text>
<text x="37.8" y="1123.1" textLength="20">等规定</text><text x="132.8" y="1123.1" textLength="12">内容</text>
<text x="37.8" y="1130.1" textLength="108">法律另有规定的依照其规定但自权利受到损害之日起超过二十年不予保护</text>
<text x="37.8" y="1135.7" textLength="86">行为人具有相应的民事行为能力且意思表示真实有效</text>
<text x="37.8" y="1139.1" textLength="15">适用</text><text x="132.8" y="1139.1" textLength="12">效力</text>
<text x="72.8" y="1147.6" textLength="73">债权人可以向人民法院请求以自己的名义代位行使权利</text>
<text x="65.8" y="1152.1" textLength="80">当事人一方不履行合同义务应当承担继续履行等违约责任</text>
<text x="70.8" y="1157.6" textLength="75">被代理人对代理人实施的民事法律行为承担民事责任</text>
<text x="60.8" y="1162.1" textLength="85">行为人具有相应的民事行为能力且意思表示真实有效</text></g>
<g id="b4e"><text class="p" x="158" y="1206.1" textLength="10">债的消灭</text>
<text x="67.8" y="1165.7" textLength="85">债权人可以向人民法院请求以自己的名义代位行使权利</text>
<text x="67.8" y="1169.1" textLength="15">规定</text>
<text x="50.8" y="1176.6" textLength="102">不违反法律行政法规的强制性规定且不违背公序良俗原则的行为有效</text>
<text x="50.8" y="1181.6" textLength="102">法律另有规定的依照其规定但自权利受到损害之日起超过二十年不予保护</text>
<text x="57.8" y="1186.6" textLength="95">当事人一方不履行合同义务应当承担继续履行等违约责任</text>
<text x="33.8" y="1190.7" textLength="90">被代理人对代理人实施的民事法律行为承担民事责任</text>
<text x="33.8" y="1194.1" textLength="30">权利人知道权利受到损害</text><text x="132.8" y="1194.1" textLength="20">2、效力</text>
<text x="67.8" y="1199.6" textLength="85">行为人具有相应的民事行为能力且意思表示真实有效</text>
<text x="37.8" y="1203.7" textLength="88">债权人可以向人民法院请求以自己的名义代位行使权利</text>
<text x="37.8" y="1207.1" textLength="25">适用范围</text><text x="132.8" y="1207.1" textLength="20">3、例外</text>
<text x="63.8" y="1214.1" textLength="89">当事人一方不履行合同义务应当承担继续履行等违约责任</text>
<text x="33.8" y="1217.7" textLength="90">被代理人对代理人实施的民事法律行为承担民事责任</text>
<text x="33.8" y="1221.1" textLength="20">等情形</text><text x="132.8" y="1221.1" textLength="20">4、后果</text>
<text x="115.8" y="1228.1" textLength="37">合同的订立采取要约承诺</text>
<text x="67.8" y="1233.1" textLength="85">行为人具有相应的民事行为能力且意思表示真实有效</text>
<text x="37.8" y="1236.7" textLength="88">债权人可以向人民法院请求以自己的名义代位行使权利</text>
<text x="37.8" y="1240.1" textLength="30">依法成立的合同受法律保护</text></g>
</g>
<g id="b5">
<rect class="bx" x="192" y="1405.25" width="24" height="6.5" rx="1"/><text class="bt" x="204" y="1409.8">五、继承法</text>
<g id="b5a"><text class="p" x="173" y="1283.6" textLength="10">继承</text>
<text x="90.8" y="1255.6" textLength="78">当事人一方不履行合同义务应当承担继续履行等违约责任</text>
<text x="78.8" y="1261.6" textLength="90">被代理人对代理人实施的民事法律行为承担民事责任</text>
<text x="95.8" y="1266.6" textLength="73">行为人具有相应的民事行为能力且意思表示真实有效</text>
<text x="95.8" y="1271.6" textLength="73">债权人可以向人民法院请求以自己的名义代位行使权利</text>
<text x="113.8" y="1276.6" textLength="55">代理人在代理权限内以被代理人名义实施</text>
<text x="73.8" y="1281.6" textLength="95">当事人一方不履行合同义务应当承担继续履行等违约责任</text>
<text x="65.8" y="1286.6" textLength="103">不违反法律行政法规的强制性规定且不违背公序良俗原则的行为有效</text>
<text x="67.8" y="1291.6" textLength="101">法律另有规定的依照其规定但自权利受到损害之日起超过二十年不予保护</text>
<text x="120.8" y="1297.6" textLength="48">诉讼时效期间自权利人知道之日起计算</text>
<text x="80.8" y="1302.6" textLength="88">被代理人对代理人实施的民事法律行为承担民事责任</text>
<text x="100.8" y="1307.1" textLength="68">不违反法律行政法规的强制性规定要求</text>
<text x="77.8" y="1312.1" textLength="91">行为人具有相应的民事行为能力且意思表示真实有效</text>
<text x="55.8" y="1317.6" textLength="113">不违反法律行政法规的强制性规定且不违背公序良俗原则的行为有效</text></g>
<g id="b5b"><text class="p" x="165" y="1343.1" textLength="17">法定继承</text>
<text x="80.8" y="1322.6" textLength="79">债权人可以向人民法院请求以自己的名义代位行使权利</text>
<text x="90.8" y="1328.6" textLength="69">物权的设立变更转让和消灭应当依法登记</text>
<text x="100.8" y="1333.6" textLength="59">按照约定全面履行自己的义务和责任</text>
<text x="100.8" y="1338.6" textLength="59">代理人在代理权限内以被代理人名义实施</text>
<text x="120.8" y="1343.1" textLength="39">合同的订立采取要约承诺</text>
<text x="87.8" y="1348.6" textLength="72">当事人一方不履行合同义务应当承担继续履行等违约责任</text>
<text x="83.8" y="1353.1" textLength="76">被代理人对代理人实施的民事法律行为承担民事责任</text>
<text x="83.8" y="1358.1" textLength="76">行为人具有相应的民事行为能力且意思表示真实有效</text>
<text x="90.8" y="1363.6" textLength="69">诉讼时效期间自权利人知道之日起计算</text>
<text x="100.8" y="1369.1" textLength="59">不违反法律行政法规的强制性规定要求</text></g>
<g id="b5c"><text class="p" x="157" y="1401.1" textLength="26">遗嘱继承与遗赠</text>
<text x="80.8" y="1374.1" textLength="71">债权人可以向人民法院请求以自己的名义代位行使权利</text>
<text x="55.8" y="1379.1" textLength="96">当事人一方不履行合同义务应当承担继续履行等违约责任</text>
<text x="62.8" y="1384.1" textLength="89">被代理人对代理人实施的民事法律行为承担民事责任</text>
<text x="52.8" y="1389.1" textLength="99">不违反法律行政法规的强制性规定且不违背公序良俗原则的行为有效</text>
<text x="97.8" y="1394.1" textLength="54">物权的设立变更转让和消灭应当依法登记</text>
<text x="40.8" y="1397.7" textLength="90">行为人具有相应的民事行为能力且意思表示真实有效</text>
<text x="40.8" y="1401.1" textLength="60">按照约定全面履行自己的义务和责任</text>
<text x="78.8" y="1408.6" textLength="73">债权人可以向人民法院请求以自己的名义代位行使权利</text>
<text x="57.8" y="1413.6" textLength="94">当事人一方不履行合同义务应当承担继续履行等违约责任</text>
<text x="57.8" y="1418.1" textLength="94">被代理人对代理人实施的民事法律行为承担民事责任</text>
<text x="57.8" y="1424.1" textLength="94">行为人具有相应的民事行为能力且意思表示真实有效</text>
<text x="43.8" y="1428.6" textLength="108">法律另有规定的依照其规定但自权利受到损害之日起超过二十年不予保护</text></g>
<g id="b5d"><text class="p" x="153" y="1444.1" textLength="30">遗产的处理规则</text>
<text x="73.8" y="1433.6" textLength="75">债权人可以向人民法院请求以自己的名义代位行使权利</text>
<text x="73.8" y="1438.6" textLength="75">当事人一方不履行合同义务应当承担继续履行等违约责任</text>
<text x="75.8" y="1444.1" textLength="73">被代理人对代理人实施的民事法律行为承担民事责任</text>
<text x="75.8" y="1449.1" textLength="73">行为人具有相应的民事行为能力且意思表示真实有效</text>
<text x="75.8" y="1454.1" textLength="73">债权人可以向人民法院请求以自己的名义代位行使权利</text></g>
<g id="b5e"><text class="p" x="162" y="1488.6" textLength="21">婚姻关系</text>
<text x="100.8" y="1459.1" textLength="56">代理人在代理权限内以被代理人名义实施</text>
<text x="97.8" y="1464.1" textLength="59">诉讼时效期间自权利人知道之日起计算</text>
<text x="103.8" y="1469.6" textLength="53">不违反法律行政法规的强制性规定要求</text>
<text x="90.8" y="1474.6" textLength="66">物权的设立变更转让和消灭应当依法登记</text>
<text x="77.8" y="1479.6" textLength="79">当事人一方不履行合同义务应当承担继续履行等违约责任</text>
<text x="60.8" y="1484.6" textLength="96">被代理人对代理人实施的民事法律行为承担民事责任</text>
<text x="67.8" y="1489.6" textLength="89">行为人具有相应的民事行为能力且意思表示真实有效</text>
<text x="67.8" y="1494.6" textLength="89">债权人可以向人民法院请求以自己的名义代位行使权利</text>
<text x="20.8" y="1498.7" textLength="90">当事人一方不履行合同义务应当承担继续履行等违约责任</text>
<text x="20.8" y="1502.1" textLength="40">权利人知道权利受到损害</text><text x="128.8" y="1502.1" textLength="27">5、主要内容</text>
<text x="55.8" y="1509.6" textLength="101">不违反法律行政法规的强制性规定且不违背公序良俗原则的行为有效</text>
<text x="75.8" y="1514.1" textLength="81">被代理人对代理人实施的民事法律行为承担民事责任</text>
<text x="73.8" y="1519.1" textLength="83">行为人具有相应的民事行为能力且意思表示真实有效</text></g>
<g id="b5f"><text class="p" x="162" y="1542.1" textLength="20">家庭关系</text>
<text x="97.8" y="1525.1" textLength="59">按照约定全面履行自己的义务和责任</text>
<text x="47.8" y="1528.7" textLength="87">债权人可以向人民法院请求以自己的名义代位行使权利</text>
<text x="47.8" y="1532.1" textLength="20">等规定</text><text x="138.8" y="1532.1" textLength="17">效力</text>
<text x="70.8" y="1537.6" textLength="86">当事人一方不履行合同义务应当承担继续履行等违约责任</text>
<text x="87.8" y="1542.6" textLength="69">代理人在代理权限内以被代理人名义实施</text>
<text x="90.8" y="1548.6" textLength="66">诉讼时效期间自权利人知道之日起计算</text>
<text x="73.8" y="1554.1" textLength="83">被代理人对代理人实施的民事法律行为承担民事责任</text>
<text x="80.8" y="1559.1" textLength="76">行为人具有相应的民事行为能力且意思表示真实有效</text></g>
</g>
<g id="b6">
<rect class="bx" x="183" y="1654.75" width="33" height="6.5" rx="1"/><text class="bt" x="199.5" y="1659.3">六、婚姻家庭法</text>
<g id="b6a"><text class="p" x="158" y="1574.1" textLength="15">继承概述</text>
<text x="105.8" y="1568.6" textLength="47">不违反法律行政法规的强制性规定要求</text>
<text x="97.8" y="1573.6" textLength="55">物权的设立变更转让和消灭应当依法登记</text>
<text x="68.8" y="1578.2" textLength="84">被代理人对代理人实施的民事法律行为承担民事责任</text>
<text x="68.8" y="1581.6" textLength="10">等</text></g>
<g id="b6b"><text class="p" x="143" y="1595.1" textLength="28">继承权的取得与丧失</text>
<text x="75.8" y="1587.6" textLength="61">按照约定全面履行自己的义务和责任</text>
<text x="70.8" y="1592.1" textLength="66">代理人在代理权限内以被代理人名义实施</text>
<text x="112.8" y="1597.6" textLength="24">合同履行</text>
<text x="83.8" y="1602.6" textLength="53">诉讼时效期间自权利人知道之日起计算</text></g>
<g id="b6c"><text class="p" x="150" y="1633.1" textLength="21">遗产范围</text>
<text x="129.5" y="1620.1" textLength="16">1、内容</text>
<text x="87.8" y="1608.1" textLength="37">合同的订立采取要约承诺</text>
<text x="87.8" y="1613.1" textLength="37">依法成立的合同受法律保护</text>
<text x="82.8" y="1618.1" textLength="42">当事人应当遵循诚信原则</text>
<text x="93.8" y="1623.1" textLength="31">意思表示真实且合法有效</text>
<text x="70.8" y="1628.6" textLength="54">不违反法律行政法规的强制性规定要求</text>
<text x="83.8" y="1633.6" textLength="41">权利人知道权利受到损害</text>
<text x="129.5" y="1648.6" textLength="16">2、效力</text>
<text x="33.8" y="1638.6" textLength="91">当事人一方不履行合同义务应当承担继续履行等违约责任</text>
<text x="57.8" y="1643.6" textLength="67">物权的设立变更转让和消灭应当依法登记</text>
<text x="20.8" y="1648.6" textLength="104">不违反法律行政法规的强制性规定且不违背公序良俗原则的行为有效</text>
<text x="50.8" y="1654.1" textLength="74">被代理人对代理人实施的民事法律行为承担民事责任</text>
<text x="38.8" y="1659.1" textLength="86">行为人具有相应的民事行为能力且意思表示真实有效</text></g>
<g id="b6d"><text class="p" x="153" y="1687.1" textLength="18">遗产分割</text>
<text x="58.8" y="1664.1" textLength="89">债权人可以向人民法院请求以自己的名义代位行使权利</text>
<text x="50.8" y="1669.1" textLength="97">当事人一方不履行合同义务应当承担继续履行等违约责任</text>
<text x="73.8" y="1674.1" textLength="74">被代理人对代理人实施的民事法律行为承担民事责任</text>
<text x="73.8" y="1679.1" textLength="74">行为人具有相应的民事行为能力且意思表示真实有效</text>
<text x="73.8" y="1685.1" textLength="74">债权人可以向人民法院请求以自己的名义代位行使权利</text>
<text x="93.8" y="1690.1" textLength="54">按照约定全面履行自己的义务和责任</text>
<text x="93.8" y="1695.1" textLength="54">代理人在代理权限内以被代理人名义实施</text>
<text x="83.8" y="1700.1" textLength="64">诉讼时效期间自权利人知道之日起计算</text>
<text x="77.8" y="1705.1" textLength="70">当事人一方不履行合同义务应当承担继续履行等违约责任</text>
<text x="75.8" y="1710.1" textLength="72">被代理人对代理人实施的民事法律行为承担民事责任</text></g>
<g id="b6e"><text class="p" x="153" y="1732.1" textLength="18">债务清偿</text>
<text x="88.8" y="1716.1" textLength="58">不违反法律行政法规的强制性规定要求</text>
<text x="62.8" y="1721.1" textLength="84">行为人具有相应的民事行为能力且意思表示真实有效</text>
<text x="65.8" y="1726.1" textLength="81">债权人可以向人民法院请求以自己的名义代位行使权利</text>
<text x="55.8" y="1731.1" textLength="91">当事人一方不履行合同义务应当承担继续履行等违约责任</text>
<text x="90.8" y="1736.1" textLength="56">物权的设立变更转让和消灭应当依法登记</text>
<text x="88.8" y="1741.1" textLength="58">按照约定全面履行自己的义务和责任</text>
<text x="77.8" y="1746.1" textLength="69">代理人在代理权限内以被代理人名义实施</text></g>
</g>
<g id="b7">
<rect class="bx" x="267" y="632.5" width="44" height="7" rx="1"/><text class="bt" x="289" y="637.3">七、人格权与侵权责任</text>
<path class="br" d="M441.5,535Q443,535 443,536.5V546Q443,547.5 444.5,547.5Q443,547.5 443,549V558.5Q443,560 441.5,560 M431.5,561Q433,561 433,562.5V579Q433,580.5 434.5,580.5Q433,580.5 433,582V598.5Q433,600 431.5,600 M387.5,601.5Q389,601.5 389,603V607.75Q389,609.25 390.5,609.25Q389,609.25 389,610.75V615.5Q389,617 387.5,617 M406.5,685Q408,685 408,686.5V693.5Q408,695 409.5,695Q408,695 408,696.5V703.5Q408,705 406.5,705"/>
<rect class="ob" x="446" y="545.25" width="16" height="4.5"/><text class="ot" x="454" y="548.5">重点提示</text>
<rect class="ob" x="436" y="578.25" width="12.5" height="4.5"/><text class="ot" x="442.25" y="581.5">易混淆</text>
<rect class="ob" x="392" y="607" width="15" height="4.5"/><text class="ot" x="399.5" y="610.25">注意区分</text>
<rect class="ob" x="411" y="692.75" width="20" height="4.5"/><text class="ot" x="421" y="696">常考知识点</text>
<g id="b7a"><text class="p" x="317" y="531.6" textLength="12">概述</text></g>
<g id="b7b"><text class="p" x="317" y="577.1" textLength="19">人格权</text>
<text x="340" y="540.6" textLength="33">1、人格权的种类</text>
<text x="380" y="535.6" textLength="36">合同的订立采取要约承诺</text>
<text x="380" y="540.6" textLength="38">依法成立的合同受法律保护</text>
<text x="380" y="546.6" textLength="54">代理人在代理权限内以被代理人名义实施</text>
<text x="340" y="554.1" textLength="20">2、特征</text>
<text x="367" y="551.6" textLength="70">行为人具有相应的民事行为能力且意思表示真实有效</text>
<text x="367" y="556.6" textLength="25">基本原则</text>
<text x="340" y="561.6" textLength="22">3、要件</text><text x="370" y="561.6" textLength="42">当事人应当遵循诚信原则</text>
<text x="340" y="567.6" textLength="22">4、效力</text><text x="375" y="567.6" textLength="51">诉讼时效期间自权利人知道之日起计算</text>
<text x="340" y="572.6" textLength="22">5、种类</text><text x="372" y="572.6" textLength="20">法定代理</text>
<text x="340" y="577.6" textLength="22">6、范围</text><text x="372" y="577.6" textLength="29">意思表示真实且合法有效</text>
<text x="340" y="589.6" textLength="27">7、主要内容</text>
<text x="377" y="582.6" textLength="50">不违反法律行政法规的强制性规定要求</text>
<text x="377" y="587.6" textLength="50">物权的设立变更转让和消灭应当依法登记</text>
<text x="377" y="592.6" textLength="50">按照约定全面履行自己的义务和责任</text>
<text x="377" y="597.6" textLength="50">代理人在代理权限内以被代理人名义实施</text>
<text x="340" y="603.1" textLength="41">权利人知道权利受到损害</text>
<text x="340" y="608.1" textLength="36">合同的订立采取要约承诺</text>
<text x="340" y="613.1" textLength="41">依法成立的合同受法律保护</text></g>
<g id="b7c"><text class="p" x="317" y="660.1" textLength="30">侵权责任的归责原则</text>
<text x="358" y="629.1" textLength="19">1、概念</text><text x="387" y="629.1" textLength="57">诉讼时效期间自权利人知道之日起计算</text>
<text x="457" y="617.6" textLength="34">当事人应当遵循诚信原则</text>
<text x="457" y="623.1" textLength="36">意思表示真实且合法有效</text>
<text x="457" y="629.1" textLength="45">权利人知道权利受到损害</text>
<text x="457" y="634.6" textLength="47">不违反法律行政法规的强制性规定要求</text>
<text x="457" y="639.6" textLength="54">物权的设立变更转让和消灭应当依法登记</text>
<text x="358" y="644.1" textLength="34">2、违约责任形式</text><text x="398" y="644.1" textLength="44">合同的订立采取要约承诺</text>
<text x="358" y="649.1" textLength="23">3、种类</text>
<text x="358" y="655.6" textLength="34">4、赔偿损失</text>
<text x="403" y="652.2" textLength="81">行为人具有相应的民事行为能力且意思表示真实有效</text>
<text x="403" y="655.6" textLength="50">按照约定全面履行自己的义务和责任</text>
<text x="358" y="662.6" textLength="21">5、违约金</text>
<text x="358" y="669.6" textLength="34">6、定金罚则</text>
<text x="403" y="666.2" textLength="81">被代理人对代理人实施的民事法律行为承担民事责任</text>
<text x="403" y="669.6" textLength="40">依法成立的合同受法律保护</text>
<text x="358" y="679.1" textLength="34">7、继续履行</text>
<text x="401" y="677.6" textLength="36">当事人应当遵循诚信原则</text>
<text x="401" y="682.6" textLength="36">意思表示真实且合法有效</text>
<text x="358" y="686.6" textLength="44">权利人知道权利受到损害</text>
<text x="358" y="691.6" textLength="41">合同的订立采取要约承诺</text>
<text x="358" y="696.6" textLength="34">依法成立的合同受法律保护</text>
<text x="358" y="701.6" textLength="39">当事人应当遵循诚信原则</text></g>
<g id="b7d"><text class="p" x="317" y="724.1" textLength="19">责任承担</text>
<text x="343" y="706.6" textLength="28">1、平等原则</text><text x="383" y="706.6" textLength="53">代理人在代理权限内以被代理人名义实施</text>
<text x="343" y="711.6" textLength="24">2、自愿原则</text><text x="377" y="711.6" textLength="54">诉讼时效期间自权利人知道之日起计算</text>
<text x="343" y="718.6" textLength="23">3、公平</text>
<text x="382" y="715.2" textLength="80">债权人可以向人民法院请求以自己的名义代位行使权利</text>
<text x="382" y="718.6" textLength="30">意思表示真实且合法有效</text>
<text x="343" y="727.6" textLength="23">4、诚信</text>
<text x="397" y="724.2" textLength="79">当事人一方不履行合同义务应当承担继续履行等违约责任</text>
<text x="397" y="727.6" textLength="40">权利人知道权利受到损害</text>
<text x="343" y="735.1" textLength="31">合同的订立采取要约承诺</text>
<text x="343" y="740.1" textLength="23">5、守法</text><text x="375" y="740.1" textLength="66">不违反法律行政法规的强制性规定要求</text></g>
</g>
<g id="b8">
<rect class="bx" x="267" y="805.75" width="26" height="6.5" rx="1"/><text class="bt" x="280" y="810.3">八、合同分则</text>
<g id="b8a"><text class="p" x="298" y="761.1" textLength="24">合同的订立</text>
<text x="328.5" y="749.6" textLength="53">物权的设立变更转让和消灭应当依法登记</text>
<text x="328.5" y="754.6" textLength="80">行为人具有相应的民事行为能力且意思表示真实有效</text>
<text x="328.5" y="759.6" textLength="40">权利人知道权利受到损害</text>
<text x="328.5" y="763.7" textLength="87">被代理人对代理人实施的民事法律行为承担民事责任</text>
<text x="328.5" y="767.1" textLength="40">合同的订立采取要约承诺</text>
<text x="328.5" y="773.6" textLength="67">按照约定全面履行自己的义务和责任</text></g>
<g id="b8b"><text class="p" x="298" y="793.6" textLength="15">合同效力</text>
<text x="322.5" y="779.1" textLength="33">依法成立的合同受法律保护</text>
<text x="322.5" y="784.1" textLength="33">当事人应当遵循诚信原则</text>
<text x="322.5" y="788.2" textLength="86">债权人可以向人民法院请求以自己的名义代位行使权利</text>
<text x="322.5" y="791.6" textLength="40">意思表示真实且合法有效</text>
<text x="322.5" y="795.4" textLength="86">当事人一方不履行合同义务应当承担继续履行等违约责任</text>
<text x="322.5" y="798.8" textLength="86">被代理人对代理人实施的民事法律行为承担民事责任</text>
<text x="322.5" y="802.2" textLength="30">权利人知道权利受到损害</text>
<text x="322.5" y="809.1" textLength="63">代理人在代理权限内以被代理人名义实施</text></g>
<g id="b8c"><text class="p" x="298" y="822.6" textLength="15">合同履行</text>
<text x="322.5" y="814.1" textLength="86">行为人具有相应的民事行为能力且意思表示真实有效</text>
<text x="322.5" y="819.2" textLength="78">当事人一方不履行合同义务应当承担继续履行等违约责任</text>
<text x="322.5" y="822.6" textLength="30">依法成立的合同受法律保护</text>
<text x="322.5" y="827.2" textLength="78">被代理人对代理人实施的民事法律行为承担民事责任</text>
<text x="322.5" y="830.6" textLength="40">当事人应当遵循诚信原则</text></g>
<g id="b8d"><text class="p" x="298" y="841.1" textLength="15">违约责任</text>
<text x="322.5" y="837.1" textLength="79">债权人可以向人民法院请求以自己的名义代位行使权利</text>
<text x="322.5" y="844.1" textLength="74">行为人具有相应的民事行为能力且意思表示真实有效</text></g>
<g id="b8e"><text class="p" x="298" y="856.1" textLength="17">合同解除</text>
<text x="323" y="856.1" textLength="39">意思表示真实且合法有效</text>
<text x="374" y="851.6" textLength="62">诉讼时效期间自权利人知道之日起计算</text>
<text x="374" y="856.1" textLength="62">不违反法律行政法规的强制性规定要求</text>
<text x="374" y="861.6" textLength="62">物权的设立变更转让和消灭应当依法登记</text></g>
<g id="b8f"><text class="p" x="298" y="866.1" textLength="17">合同终止</text>
<text x="322" y="866.1" textLength="34">权利人知道权利受到损害</text></g>
</g>
<g id="b9">
<rect class="bx" x="267" y="1046" width="34" height="7" rx="1"/><text class="bt" x="284" y="1050.8">九、侵权责任法</text>
<g id="b9a"><text class="p" x="307" y="920.1" textLength="30">侵权责任的构成要件</text>
<text x="345" y="875.6" textLength="77">行为人具有相应的民事行为能力且意思表示真实有效</text>
<text x="344.5" y="887.1" textLength="17">1、过错</text>
<text x="367" y="885.1" textLength="42">合同的订立采取要约承诺</text>
<text x="367" y="890.1" textLength="37">依法成立的合同受法律保护</text>
<text x="344.5" y="900.1" textLength="17">2、损害</text>
<text x="367" y="895.1" textLength="79">债权人可以向人民法院请求以自己的名义代位行使权利</text>
<text x="367" y="900.1" textLength="62">代理人在代理权限内以被代理人名义实施</text>
<text x="367" y="905.1" textLength="72">当事人一方不履行合同义务应当承担继续履行等违约责任</text>
<text x="344.5" y="914.1" textLength="17">3、因果</text>
<text x="367" y="910.6" textLength="72">被代理人对代理人实施的民事法律行为承担民事责任</text>
<text x="367" y="914.7" textLength="89">行为人具有相应的民事行为能力且意思表示真实有效</text>
<text x="367" y="918.1" textLength="40">当事人应当遵循诚信原则</text>
<text x="344.5" y="934.1" textLength="17">4、行为</text>
<text x="367" y="924.1" textLength="52">诉讼时效期间自权利人知道之日起计算</text>
<text x="367" y="929.1" textLength="47">不违反法律行政法规的强制性规定要求</text>
<text x="367" y="934.1" textLength="52">物权的设立变更转让和消灭应当依法登记</text>
<text x="367" y="939.6" textLength="42">当事人应当遵循诚信原则</text>
<text x="367" y="945.1" textLength="50">按照约定全面履行自己的义务和责任</text>
<text x="344.5" y="952.6" textLength="17">5、责任</text>
<text x="367" y="950.1" textLength="52">代理人在代理权限内以被代理人名义实施</text>
<text x="367" y="955.1" textLength="44">意思表示真实且合法有效</text>
<text x="344.5" y="962.1" textLength="17">6、免责</text>
<text x="367" y="958.7" textLength="79">当事人一方不履行合同义务应当承担继续履行等违约责任</text>
<text x="367" y="962.1" textLength="40">权利人知道权利受到损害</text></g>
<g id="b9b"><text class="p" x="307" y="994.1" textLength="31">特殊侵权责任类型</text>
<text x="348" y="969.1" textLength="12">1、产品</text><text x="377" y="969.1" textLength="42">权利人知道权利受到损害</text>
<text x="348" y="977.6" textLength="14">2、环境</text>
<text x="383" y="974.2" textLength="83">行为人具有相应的民事行为能力且意思表示真实有效</text>
<text x="383" y="977.6" textLength="40">合同的订立采取要约承诺</text>
<text x="348" y="985.1" textLength="50">3、高度危险责任</text>
<text x="405" y="982.6" textLength="47">诉讼时效期间自权利人知道之日起计算</text>
<text x="405" y="987.6" textLength="47">不违反法律行政法规的强制性规定要求</text>
<text x="348" y="993.1" textLength="29">4、饲养动物</text><text x="387" y="993.1" textLength="32">当事人应当遵循诚信原则</text>
<text x="348" y="999.6" textLength="26">5、物件</text>
<text x="383" y="998.1" textLength="43">意思表示真实且合法有效</text>
<text x="383" y="1003.1" textLength="43">权利人知道权利受到损害</text>
<text x="348" y="1009.1" textLength="33">6、网络侵权</text>
<text x="390" y="1007.6" textLength="84">债权人可以向人民法院请求以自己的名义代位行使权利</text>
<text x="390" y="1012.6" textLength="84">当事人一方不履行合同义务应当承担继续履行等违约责任</text>
<text class="g" x="348" y="1016.2" textLength="88">被代理人对代理人实施的民事法律行为承担民事责任</text>
<text class="g" x="348" y="1019.6" textLength="40">合同的订立采取要约承诺</text></g>
<g id="b9c"><text class="p" x="307" y="1055.1" textLength="23">损害赔偿</text>
<text x="340" y="1025.1" textLength="27">1、人身损害</text><text x="375" y="1025.1" textLength="37">依法成立的合同受法律保护</text>
<text x="340" y="1032.6" textLength="27">2、财产损害</text>
<text x="374" y="1030.1" textLength="43">当事人应当遵循诚信原则</text>
<text x="374" y="1035.6" textLength="43">意思表示真实且合法有效</text>
<text x="340" y="1043.1" textLength="27">3、精神损害</text>
<text x="374" y="1040.6" textLength="43">权利人知道权利受到损害</text>
<text x="374" y="1045.6" textLength="43">合同的订立采取要约承诺</text>
<text x="340" y="1055.6" textLength="27">4、赔偿范围</text>
<text x="374" y="1050.6" textLength="70">代理人在代理权限内以被代理人名义实施</text>
<text x="374" y="1055.6" textLength="65">诉讼时效期间自权利人知道之日起计算</text>
<text x="374" y="1060.6" textLength="70">不违反法律行政法规的强制性规定要求</text>
<text x="340" y="1070.6" textLength="27">5、赔偿方式</text>
<text x="374" y="1065.6" textLength="88">行为人具有相应的民事行为能力且意思表示真实有效</text>
<text x="374" y="1070.6" textLength="80">债权人可以向人民法院请求以自己的名义代位行使权利</text>
<text x="374" y="1075.6" textLength="45">依法成立的合同受法律保护</text>
<text x="340" y="1083.1" textLength="27">6、责任减免</text>
<text x="374" y="1080.6" textLength="73">物权的设立变更转让和消灭应当依法登记</text>
<text x="374" y="1085.6" textLength="73">按照约定全面履行自己的义务和责任</text></g>
<g id="b9d"><text class="p" x="307" y="1140.1" textLength="23">法律适用</text>
<text x="340" y="1096.1" textLength="24">1、一般规定</text>
<text x="370" y="1090.6" textLength="52">代理人在代理权限内以被代理人名义实施</text>
<text x="370" y="1096.1" textLength="47">诉讼时效期间自权利人知道之日起计算</text>
<text x="370" y="1101.6" textLength="52">不违反法律行政法规的强制性规定要求</text>
<text x="340" y="1130.6" textLength="48">2、特别规定与适用</text>
<text x="395" y="1106.6" textLength="24">适用范围</text>
<text x="395" y="1111.6" textLength="28">法律效力规定</text>
<text x="395" y="1116.6" textLength="42">当事人应当遵循诚信原则</text>
<text x="395" y="1121.6" textLength="45">意思表示真实且合法有效</text>
<text x="395" y="1126.1" textLength="36">权利人知道权利受到损害</text>
<text x="395" y="1131.1" textLength="32">合同的订立采取要约承诺</text>
<text x="395" y="1136.1" textLength="46">依法成立的合同受法律保护</text>
<text x="395" y="1141.1" textLength="59">代理人在代理权限内以被代理人名义实施</text>
<text x="395" y="1146.6" textLength="66">诉讼时效期间自权利人知道之日起计算</text>
<text x="395" y="1152.1" textLength="82">行为人具有相应的民事行为能力且意思表示真实有效</text>
<text x="340" y="1166.6" textLength="24">3、例外规定</text>
<text x="370" y="1161.1" textLength="59">不违反法律行政法规的强制性规定要求</text>
<text x="370" y="1166.1" textLength="39">当事人应当遵循诚信原则</text>
<text x="370" y="1171.1" textLength="42">意思表示真实且合法有效</text>
<text x="340" y="1182.6" textLength="15">4、其他</text>
<text x="360" y="1175.6" textLength="79">被代理人对代理人实施的民事法律行为承担民事责任</text>
<text x="360" y="1180.6" textLength="84">债权人可以向人民法院请求以自己的名义代位行使权利</text>
<text x="360" y="1186.7" textLength="86">当事人一方不履行合同义务应当承担继续履行等违约责任</text>
<text x="360" y="1190.1" textLength="40">权利人知道权利受到损害</text></g>
<g id="b9e"><text class="p" x="307" y="1208.6" textLength="35">诉讼时效与举证</text>
<text x="348" y="1195.1" textLength="28">时效期间</text>
<text x="348" y="1200.1" textLength="36">合同的订立采取要约承诺</text>
<text x="348" y="1205.1" textLength="39">依法成立的合同受法律保护</text>
<text x="348" y="1210.1" textLength="26">举证责任</text>
<text x="348" y="1215.1" textLength="54">代理人在代理权限内以被代理人名义实施</text>
<text x="348" y="1220.1" textLength="29">当事人应当遵循诚信原则</text></g>
</g>
</g>
</svg>
